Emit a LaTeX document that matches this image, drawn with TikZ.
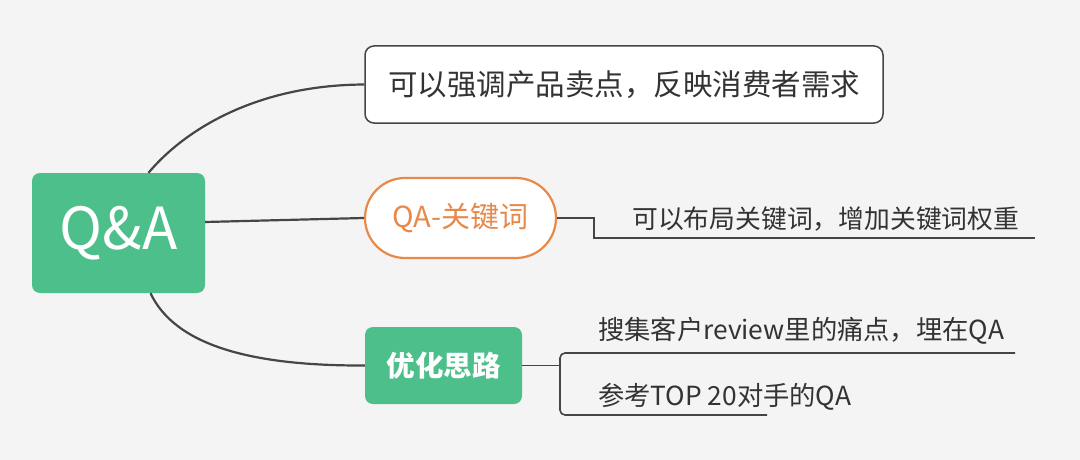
\documentclass[tikz,border=0pt]{standalone}
\usepackage{fontspec}
\setmainfont{Noto Sans CJK SC}
\usetikzlibrary{calc}
\definecolor{bg}{HTML}{F4F4F4}
\definecolor{qgreen}{HTML}{4CBF8A}
\definecolor{qorange}{HTML}{E8894A}
\definecolor{qline}{HTML}{454545}
\definecolor{qtext}{HTML}{333333}
\tikzset{
  conn/.style={draw=qline, line width=2.2pt},
  thinconn/.style={draw=qline, line width=1.6pt},
  greenbox/.style={fill=qgreen, draw=none, rounded corners=8pt, text=white, inner sep=0pt},
  whitebox/.style={fill=white, draw=qline, line width=1.5pt, rounded corners=9pt, text=qtext, inner sep=0pt},
  pillbox/.style={fill=white, draw=qorange, line width=2.2pt, rounded corners=40pt, text=qorange, inner sep=0pt},
  plain/.style={text=qtext, inner sep=0pt, anchor=west},
}
\begin{document}
\begin{tikzpicture}[x=1pt,y=-1pt]
\fill[bg] (0,0) rectangle (1080,460);
\useasboundingbox (0,0) rectangle (1080,460);

\node[greenbox, minimum width=173pt, minimum height=120pt] (qa) at (118.5,233)
  {\fontsize{58}{64}\selectfont Q\&A};
\node[whitebox, minimum width=518pt, minimum height=77pt] (top) at (624,84.5)
  {\fontsize{29.5}{32}\selectfont 可以强调产品卖点，反映消费者需求};
\node[pillbox, minimum width=191pt, minimum height=80pt] (pill) at (460.5,218)
  {\fontsize{29}{32}\selectfont QA-关键词};
\node[greenbox, minimum width=157pt, minimum height=77pt] (opt) at (443.5,365.5)
  {\fontsize{28.5}{30}\selectfont\bfseries 优化思路};

\node[plain] (t2) at (632,219) {\fontsize{25.8}{28}\selectfont 可以布局关键词，增加关键词权重};
\node[plain] (t3) at (598,331) {\fontsize{26.3}{28}\selectfont 搜集客户review里的痛点，埋在QA};
\node[plain] (t4) at (598,397) {\fontsize{26.3}{28}\selectfont 参考TOP 20对手的QA};

% connectors from root
\draw[conn] ($(qa.north)+(30,0)$) .. controls (180,135) and (250,85) .. (top.west);
\draw[conn] ($(qa.east)+(0,-11)$) -- (pill.west);
\draw[conn] ($(qa.south)+(32,0)$) .. controls (175,345) and (250,366) .. (opt.west);

% pill branch
\coordinate (k1) at (594,238);
\coordinate (k1e) at (1035,238);
\draw[thinconn] (pill.east) -| (k1) -- (k1e);

% optimisation branch
\coordinate (bv) at (560,353);
\coordinate (bl) at (560,415);
\coordinate (b1) at (1015,353);
\coordinate (b2) at (767,415);
\draw[thinconn] (opt.east) -- (opt.east -| bv);
\draw[thinconn, rounded corners=5pt] (b1) -- (bv) -- (bl) [sharp corners] -- (b2);
\end{tikzpicture}
\end{document}
